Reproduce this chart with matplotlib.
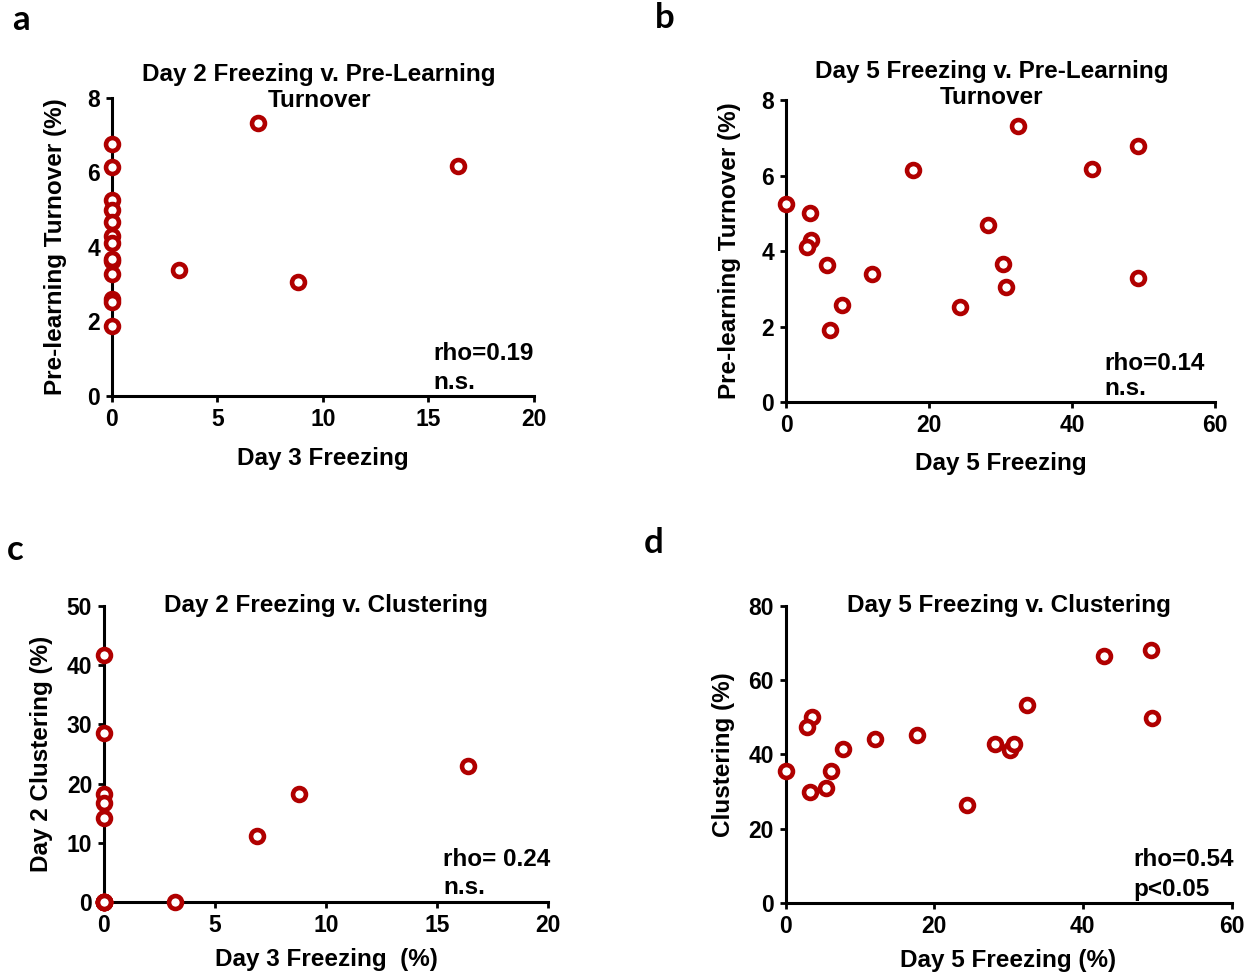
import matplotlib
matplotlib.use("Agg")
import matplotlib.pyplot as plt

# panel a: day 3 freezing vs pre-learning turnover
a_x = [0, 0, 0, 0, 0, 0, 0, 0, 0, 0, 0, 0, 0, 6.9, 16.4, 3.2, 8.8]
a_y = [6.77, 6.14, 5.27, 5.0, 4.67, 4.30, 4.12, 3.63, 3.68, 3.27, 2.60, 2.51, 1.89,
       7.33, 6.18, 3.39, 3.05]

# panel b: day 5 freezing vs pre-learning turnover
b_x = [0, 3.4, 3.5, 3.0, 5.7, 6.1, 7.9, 12.0, 17.7, 24.4, 28.2, 30.3, 30.8,
       32.5, 42.8, 49.2, 49.3]
b_y = [5.24, 5.02, 4.29, 4.11, 3.63, 1.90, 2.56, 3.40, 6.15, 2.51, 4.70, 3.65,
       3.05, 7.32, 6.18, 6.77, 3.28]

# panel c: day 3 freezing vs day 2 clustering
c_x = [0, 0, 0, 0, 0, 0, 0, 0, 0, 0, 0, 0, 0, 3.2, 6.9, 8.8, 16.4]
c_y = [41.7, 28.5, 18.3, 16.7, 14.2, 0, 0, 0, 0, 0, 0, 0, 0, 0, 11.1, 18.2, 23.0]

# panel d: day 5 freezing vs clustering
d_x = [0, 3.5, 2.9, 3.3, 5.5, 6.1, 7.8, 12.0, 17.7, 24.4, 28.2, 30.2, 30.8,
       32.5, 42.8, 49.1, 49.3]
d_y = [35.6, 50.0, 47.5, 29.9, 31.1, 35.6, 41.5, 44.3, 45.3, 26.5, 42.7, 41.3,
       42.9, 53.2, 66.5, 68.2, 49.9]

plt.rcParams['font.family'] = ['Liberation Sans', 'DejaVu Sans']
plt.rcParams['font.weight'] = 'bold'

red = '#b00000'
fs = 17.5

fig = plt.figure(figsize=(12.54, 9.76), dpi=100)

panels = [
    dict(rect=[0.0893, 0.5943, 0.3365, 0.3053], x=a_x, y=a_y, xlim=(0, 20), ylim=(0, 8),
         xt=[0, 5, 10, 15, 20], yt=[0, 2, 4, 6, 8],
         title="Day 2 Freezing v. Pre-Learning\nTurnover", tpos=(0.491, 1.036),
         xl="Day 3 Freezing", xly=-0.209, yl="Pre-learning Turnover (%)", ylx=-0.133,
         t1="rho=0.19", t2="n.s.", tx=0.761, ty=(0.144, 0.044)),
    dict(rect=[0.6268, 0.5881, 0.3421, 0.3094], x=b_x, y=b_y, xlim=(0, 60), ylim=(0, 8),
         xt=[0, 20, 40, 60], yt=[0, 2, 4, 6, 8],
         title="Day 5 Freezing v. Pre-Learning\nTurnover", tpos=(0.479, 1.05),
         xl="Day 5 Freezing", xly=-0.203, yl="Pre-learning Turnover (%)", ylx=-0.132,
         t1="rho=0.14", t2="n.s.", tx=0.742, ty=(0.128, 0.046)),
    dict(rect=[0.0829, 0.0758, 0.3541, 0.3033], x=c_x, y=c_y, xlim=(0, 20), ylim=(0, 50),
         xt=[0, 5, 10, 15, 20], yt=[0, 10, 20, 30, 40, 50],
         title="Day 2 Freezing v. Clustering", tpos=(0.5, 1.0),
         xl="Day 3 Freezing  (%)", xly=-0.194, yl="Day 2 Clustering (%)", ylx=-0.141,
         t1="rho= 0.24", t2="n.s.", tx=0.764, ty=(0.144, 0.05)),
    dict(rect=[0.6264, 0.0748, 0.3557, 0.3043], x=d_x, y=d_y, xlim=(0, 60), ylim=(0, 80),
         xt=[0, 20, 40, 60], yt=[0, 20, 40, 60, 80],
         title="Day 5 Freezing v. Clustering", tpos=(0.5, 1.0),
         xl="Day 5 Freezing (%)", xly=-0.192, yl="Clustering (%)", ylx=-0.138,
         t1="rho=0.54", t2="p<0.05", tx=0.779, ty=(0.148, 0.047)),
]

for p in panels:
    ax = fig.add_axes(p['rect'])
    ax.plot(p['x'], p['y'], 'o', ls='none', mfc='white', mec=red, ms=9.3, mew=3.3,
            clip_on=False, zorder=5)
    ax.set_xlim(*p['xlim'])
    ax.set_ylim(*p['ylim'])
    ax.set_xticks(p['xt'])
    ax.set_yticks(p['yt'])
    for s in ['top', 'right']:
        ax.spines[s].set_visible(False)
    for s in ['left', 'bottom']:
        ax.spines[s].set_linewidth(2.2)
    ax.tick_params(direction='out', length=4, width=2.0, labelsize=16.5, pad=4.5)
    ax.text(p['tpos'][0], p['tpos'][1], p['title'], transform=ax.transAxes,
            ha='center', va='center', fontsize=fs, fontweight='bold', linespacing=1.17)
    ax.set_xlabel(p['xl'], fontsize=fs, fontweight='bold', va='center')
    ax.xaxis.set_label_coords(0.5, p['xly'])
    ax.set_ylabel(p['yl'], fontsize=fs, fontweight='bold', va='center')
    ax.yaxis.set_label_coords(p['ylx'], 0.5)
    ax.text(p['tx'], p['ty'][0], p['t1'], transform=ax.transAxes, ha='left',
            va='center', fontsize=fs, fontweight='bold')
    ax.text(p['tx'], p['ty'][1], p['t2'], transform=ax.transAxes, ha='left',
            va='center', fontsize=fs, fontweight='bold')

# panel letters
for lbl, px, py in [('a', 21, 20), ('b', 665, 18), ('c', 15, 550), ('d', 654, 543)]:
    fig.text(px / 1254, 1 - py / 976, lbl, ha='center', va='center',
             fontsize=25, fontweight='bold', family=['Lato', 'DejaVu Sans'])

fig.savefig('out.png', dpi=100)
